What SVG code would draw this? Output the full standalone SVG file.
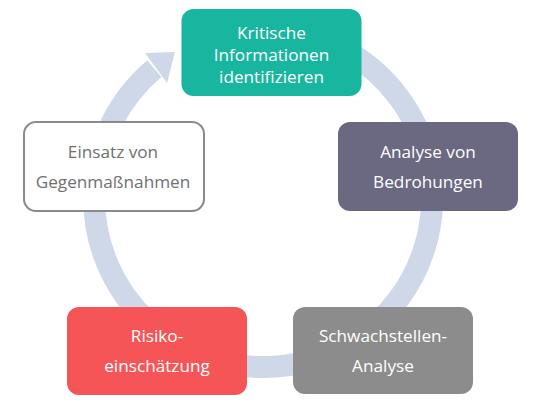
<svg xmlns="http://www.w3.org/2000/svg" width="540" height="405" viewBox="0 0 540 405">
<style>
.t{font-family:"Open Sans","Noto Sans","Liberation Sans",sans-serif;font-size:17.2px;text-anchor:middle;fill:#ffffff}
.d{fill:#707070}
.ring{fill:none;stroke:#cfd8e8;stroke-width:22}
</style>
<rect width="540" height="405" fill="#ffffff"/>
<g id="connectors">
<path class="ring" d="M 347.5 51.6 A 169 169 0 1 1 154.4 68.6"/>
<polygon points="175,52 145,53 167,83" fill="#cfd8e8"/>
</g>
<g id="node-kritische">
<rect x="181.5" y="9" width="180" height="87" rx="12" fill="#19b69f"/>
<text class="t" x="271.5" y="39">Kritische</text>
<text class="t" x="271.5" y="61">Informationen</text>
<text class="t" x="271.5" y="83">identifizieren</text>
</g>
<g id="node-bedrohungen">
<rect x="338" y="122" width="180" height="89" rx="12" fill="#6b6882"/>
<text class="t" x="428" y="158">Analyse von</text>
<text class="t" x="428" y="188">Bedrohungen</text>
</g>
<g id="node-schwachstellen">
<rect x="293" y="307" width="180" height="87" rx="12" fill="#8c8c8c"/>
<text class="t" x="383" y="342">Schwachstellen-</text>
<text class="t" x="383" y="372">Analyse</text>
</g>
<g id="node-risiko">
<rect x="67" y="307" width="180" height="88" rx="12" fill="#f65557"/>
<text class="t" x="157" y="342">Risiko-</text>
<text class="t" x="157" y="372">einschätzung</text>
</g>
<g id="node-einsatz">
<rect x="24" y="122" width="180" height="89" rx="12" fill="#ffffff" stroke="#8a8a8a" stroke-width="2"/>
<text class="t d" x="113" y="158">Einsatz von</text>
<text class="t d" x="113" y="188">Gegenmaßnahmen</text>
</g>
</svg>
